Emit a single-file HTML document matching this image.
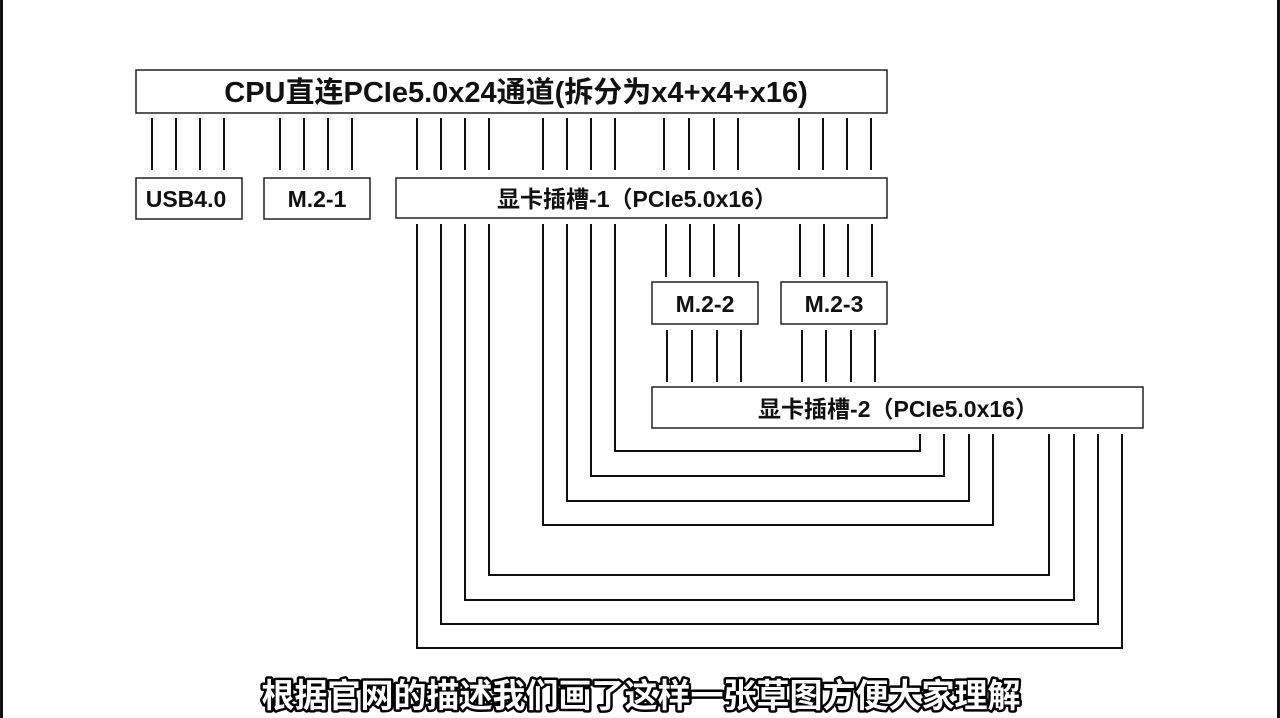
<!DOCTYPE html>
<html><head><meta charset="utf-8"><style>
html,body{margin:0;padding:0;background:#fff;width:1280px;height:718px;overflow:hidden}
</style></head><body>
<svg width="1280" height="718" xmlns="http://www.w3.org/2000/svg" font-family="'Liberation Sans','Noto Sans CJK SC',sans-serif">
<rect x="0" y="0" width="1280" height="718" fill="#fff"/>
<rect x="0" y="0" width="3" height="718" fill="#111"/>
<rect x="1277" y="0" width="3" height="718" fill="#111"/>
<g fill="none" stroke="#222" stroke-width="1.5">
<rect x="136" y="70" width="751" height="43"/>
<rect x="136" y="178" width="106" height="41"/>
<rect x="264" y="178" width="106" height="41"/>
<rect x="396" y="178" width="491" height="40"/>
<rect x="652" y="282" width="106" height="42"/>
<rect x="781" y="282" width="106" height="42"/>
<rect x="652" y="387" width="491" height="41"/>
</g>
<g stroke="#111" stroke-width="2" fill="none">
<path d="M152 118V170M176 118V170M200 118V170M224 118V170M280 118V170M304 118V170M328 118V170M352 118V170M417 118V170M441 118V170M465 118V170M489 118V170M543 118V170M567 118V170M591 118V170M615 118V170M664 118V170M689 118V170M714 118V170M738 118V170M799 118V170M823 118V170M847 118V170M871 118V170"/>
<path d="M666 224V277M690 224V277M714 224V277M739 224V277M800 224V277M824 224V277M848 224V277M872 224V277"/>
<path d="M667 330V382M692 330V382M717 330V382M741 330V382M802 330V382M826 330V382M851 330V382M875 330V382"/>
<path d="M417 224V648H1122V434"/>
<path d="M441 224V624H1098V434"/>
<path d="M465 224V600H1074V434"/>
<path d="M489 224V575H1049V434"/>
<path d="M543 224V525H993V434"/>
<path d="M567 224V501H969V434"/>
<path d="M591 224V476H944V434"/>
<path d="M615 224V451H920V434"/>
</g>
<g fill="#111" font-weight="bold" text-anchor="middle">
<text x="516" y="102" font-size="29">CPU直连PCIe5.0x24通道(拆分为x4+x4+x16)</text>
<text x="186" y="207" font-size="23">USB4.0</text>
<text x="317" y="207" font-size="23">M.2-1</text>
<text x="637" y="207" font-size="23">显卡插槽-1（PCIe5.0x16）</text>
<text x="705" y="312" font-size="23">M.2-2</text>
<text x="834" y="312" font-size="23">M.2-3</text>
<text x="898" y="417" font-size="23">显卡插槽-2（PCIe5.0x16）</text>
</g>
<text x="641" y="707" font-size="33" font-weight="bold" text-anchor="middle" fill="#fff" stroke="#000" stroke-width="5" paint-order="stroke" stroke-linejoin="round" font-family="'Noto Sans CJK SC',sans-serif">根据官网的描述我们画了这样一张草图方便大家理解</text>
</svg>
</body></html>
